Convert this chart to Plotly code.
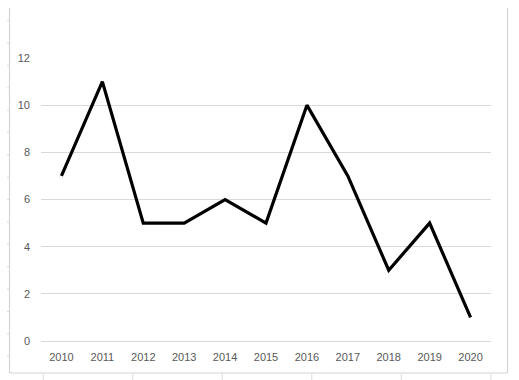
import plotly.graph_objects as go

years = ["2010", "2011", "2012", "2013", "2014", "2015", "2016", "2017", "2018", "2019", "2020"]
values = [7, 11, 5, 5, 6, 5, 10, 7, 3, 5, 1]
y_ticks = [0, 2, 4, 6, 8, 10, 12]

W, H = 519, 380
L, R, T, B = 41, 28, 58, 39
pw, ph = W - L - R, H - T - B

def px_x(x):
    return (x - L) / pw

def px_y(y):
    return (H - B - y) / ph

fig = go.Figure()
fig.add_trace(go.Scatter(
    x=years, y=values, mode="lines",
    line=dict(color="#000000", width=3.2),
    hoverinfo="skip", showlegend=False,
))

border = "#D4D4D4"
shapes = [
    dict(type="line", xref="paper", yref="paper", x0=px_x(9.5), x1=px_x(9.5), y0=px_y(8), y1=px_y(373), line=dict(color=border, width=1.2)),
    dict(type="line", xref="paper", yref="paper", x0=px_x(507.5), x1=px_x(507.5), y0=px_y(8), y1=px_y(373), line=dict(color=border, width=1.2)),
    dict(type="line", xref="paper", yref="paper", x0=px_x(9.5), x1=px_x(507.5), y0=px_y(373), y1=px_y(373), line=dict(color=border, width=1.2)),
]
for k in range(16):
    yy = 20.7 + 22.37 * k
    shapes.append(dict(type="line", xref="paper", yref="paper", x0=px_x(7), x1=px_x(9), y0=px_y(yy), y1=px_y(yy), line=dict(color="#DDDDDD", width=1)))
for k in range(6):
    xx = 43.3 + 89.5 * k
    shapes.append(dict(type="line", xref="paper", yref="paper", x0=px_x(xx), x1=px_x(xx), y0=px_y(374), y1=px_y(380), line=dict(color="#DDDDDD", width=1)))

fig.update_layout(
    width=W, height=H,
    margin=dict(l=L, r=R, t=T, b=B, pad=0),
    paper_bgcolor="#FFFFFF", plot_bgcolor="#FFFFFF",
    font=dict(family="Liberation Sans, Arial, sans-serif", size=11, color="#595959"),
    shapes=shapes,
    xaxis=dict(
        type="category", range=[-0.5, 10.5], showgrid=False, zeroline=False,
        showline=False, ticks="", ticklabelstandoff=8, fixedrange=True,
    ),
    yaxis=dict(
        range=[0, 12], tickvals=y_ticks, showgrid=True, gridcolor="#D9D9D9", gridwidth=1,
        zeroline=True, zerolinecolor="#D9D9D9", zerolinewidth=1, showline=False,
        ticks="", ticklabelstandoff=10, fixedrange=True,
    ),
)

fig.write_html(
    "out.html",
    config={"displayModeBar": False},
    post_script="document.body.style.margin='0';document.body.style.overflow='hidden';",
)
